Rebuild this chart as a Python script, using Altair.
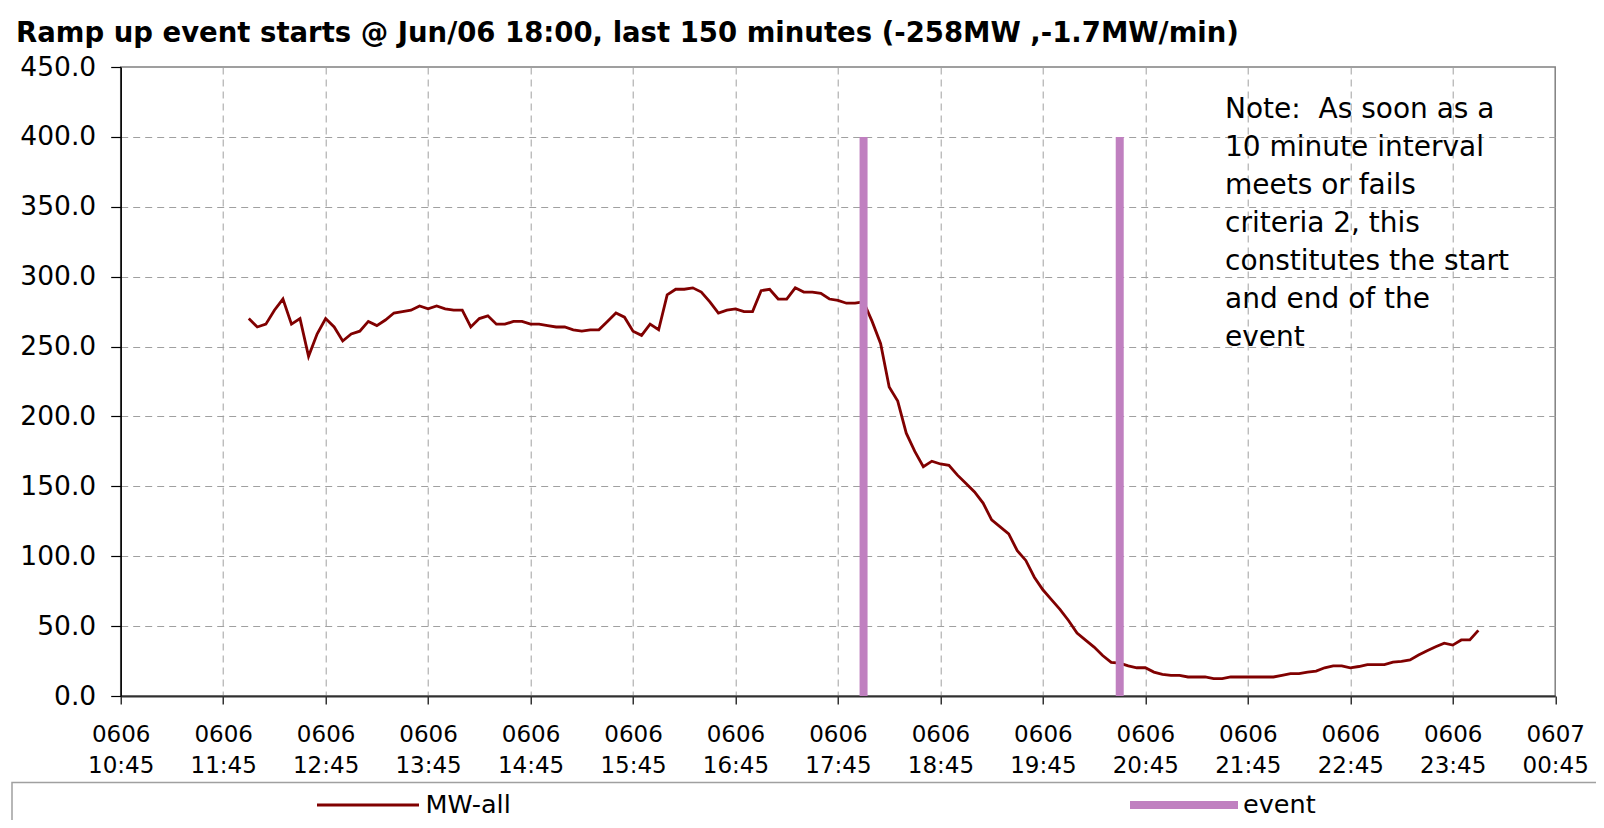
import altair as alt
import pandas as pd

# ---------------- data ----------------
title_text = "Ramp up event starts @ Jun/06 18:00, last 150 minutes (-258MW ,-1.7MW/min)"
series_names = ["MW-all", "event"]
note_lines = [
    "Note:\u00a0 As soon as a",
    "10 minute interval",
    "meets or fails",
    "criteria 2, this",
    "constitutes the start",
    "and end of the",
    "event",
]

start_time = "2008-06-06 12:00"   # first sample, 5-minute data
mw_all = [
    270, 264, 266, 276, 284, 266, 270, 243, 259, 270,
    264, 254, 259, 261, 268, 265, 269, 274, 275, 276,
    279, 277, 279, 277, 276, 276, 264, 270, 272, 266,
    266, 268, 268, 266, 266, 265, 264, 264, 262, 261,
    262, 262, 268, 274, 271, 261, 258, 266, 262, 287,
    291, 291, 292, 289, 282, 274, 276, 277, 275, 275,
    290, 291, 284, 284, 292, 289, 289, 288, 284, 283,
    281, 281, 282, 268, 252, 221, 211, 188, 175, 164,
    168, 166, 165, 158, 152, 146, 138, 126, 121, 116,
    104, 97, 85, 76, 69, 62, 54, 45, 40, 35,
    29, 24, 23.5, 21.6, 20.2, 20.2, 17.1, 15.5, 14.8, 14.8,
    13.6, 13.6, 13.6, 12.4, 12.4, 13.6, 13.6, 13.6, 13.6, 13.6,
    13.6, 14.8, 16, 16, 17.1, 17.8, 20.2, 21.6, 21.6, 20.2,
    21.1, 22.5, 22.5, 22.5, 24.2, 24.7, 25.8, 29.3, 32.4, 35.2,
    37.8, 36.4, 40.1, 40.1, 47,
]

event_times = ["2008-06-06T18:00:00Z", "2008-06-06T20:30:00Z"]
event_level = [400, 400]
event_base = [0, 0]

x_tick_times = [
    "2008-06-06 10:45", "2008-06-06 11:45", "2008-06-06 12:45", "2008-06-06 13:45",
    "2008-06-06 14:45", "2008-06-06 15:45", "2008-06-06 16:45", "2008-06-06 17:45",
    "2008-06-06 18:45", "2008-06-06 19:45", "2008-06-06 20:45", "2008-06-06 21:45",
    "2008-06-06 22:45", "2008-06-06 23:45", "2008-06-07 00:45",
]
y_ticks = [0, 50, 100, 150, 200, 250, 300, 350, 400, 450]


def ms(s):
    return int(pd.Timestamp(s, tz="UTC").value // 10**6)


x_tick_ms = [ms(t) for t in x_tick_times]

times = pd.date_range(start_time, periods=len(mw_all), freq="5min").strftime("%Y-%m-%dT%H:%M:%SZ")
df_line = pd.DataFrame({"time": list(times), "mw": mw_all, "series": series_names[0]})
df_ev = pd.DataFrame({"time": event_times, "level": event_level, "base": event_base,
                      "series": series_names[1]})
one = pd.DataFrame({"k": [0]})

# ---------------- layout ----------------
FONT = "DejaVu Sans"
W, H = 1434.5, 629
PAD_L, PAD_T = 112.7, 59

x_enc = alt.X(
    "time:T",
    scale=alt.Scale(type="utc", domain=[x_tick_ms[0], x_tick_ms[-1]], nice=False),
    axis=alt.Axis(
        values=x_tick_ms,
        title=None,
        labelExpr="[utcFormat(datum.value, '%m%d'), utcFormat(datum.value, '%H:%M')]",
        labelFont=FONT, labelFontSize=23, labelColor="#000000",
        labelLineHeight=31, labelBaseline="top", labelAlign="center",
        labelPadding=19, labelFlush=False, labelOverlap=False, labelBound=False,
        tickSize=8, tickColor="#000000", tickWidth=1.2,
        domainColor="#303030", domainWidth=2,
        grid=True, gridColor="#a0a0a0", gridDash=[7, 5], gridWidth=1,
        gridOpacity={"condition": {"test": f"datum.value <= {x_tick_ms[0]} || datum.value >= {x_tick_ms[-1]}",
                                   "value": 0}, "value": 1},
    ),
)
y_enc = alt.Y(
    "mw:Q",
    scale=alt.Scale(domain=[0, 450], nice=False),
    axis=alt.Axis(
        values=y_ticks, format=".1f", title=None,
        labelFont=FONT, labelFontSize=26.5, labelColor="#000000",
        labelPadding=15, labelFlush=False, labelOverlap=False,
        tickSize=10, tickColor="#000000", tickWidth=1.2,
        domainColor="#000000", domainWidth=1.5,
        grid=True, gridColor="#a0a0a0", gridDash=[7, 5], gridWidth=1,
        gridOpacity={"condition": {"test": "datum.value <= 0 || datum.value >= 450", "value": 0},
                     "value": 1},
    ),
)

line = alt.Chart(df_line).mark_line(color="#800000", strokeWidth=2.8).encode(x=x_enc, y=y_enc)

events = alt.Chart(df_ev).mark_rule(color="#c080c0", strokeWidth=8).encode(
    x=alt.X("time:T"),
    y=alt.Y("level:Q"),
    y2=alt.Y2("base:Q"),
)

title = alt.Chart(one).mark_text(
    align="left", baseline="alphabetic", font=FONT, fontSize=27.5, fontWeight="bold", color="#000000"
).encode(x=alt.value(8 - PAD_L), y=alt.value(34 - PAD_T), text=alt.value(title_text))

note = alt.Chart(one).mark_text(
    align="left", baseline="alphabetic", font=FONT, fontSize=28, color="#000000",
    lineHeight=38, text=note_lines,
).encode(x=alt.value(1217 - PAD_L), y=alt.value(110 - PAD_T))

legend_box = alt.Chart(one).mark_rect(fill="#ffffff", stroke="#a0a0a0", strokeWidth=1.5).encode(
    x=alt.value(4 - PAD_L), x2=alt.value(1500), y=alt.value(774.6 - PAD_T), y2=alt.value(770)
)
leg_y = 797 - PAD_T
leg1_sym = alt.Chart(one).mark_rule(color="#800000", strokeWidth=2.8).encode(
    x=alt.value(309 - PAD_L), x2=alt.value(411 - PAD_L), y=alt.value(leg_y)
)
leg1_txt = alt.Chart(one).mark_text(
    align="left", baseline="middle", font=FONT, fontSize=25.5, color="#000000"
).encode(x=alt.value(417.6 - PAD_L), y=alt.value(leg_y), text=alt.value(series_names[0]))
leg2_sym = alt.Chart(one).mark_rule(color="#c080c0", strokeWidth=8).encode(
    x=alt.value(1122 - PAD_L), x2=alt.value(1230 - PAD_L), y=alt.value(leg_y)
)
leg2_txt = alt.Chart(one).mark_text(
    align="left", baseline="middle", font=FONT, fontSize=25.5, color="#000000"
).encode(x=alt.value(1235 - PAD_L), y=alt.value(leg_y), text=alt.value(series_names[1]))

chart = alt.layer(
    line, events, title, note, legend_box, leg1_sym, leg1_txt, leg2_sym, leg2_txt
).properties(
    width=W,
    height=H,
    autosize=alt.AutoSizeParams(type="none"),
    padding={"left": PAD_L, "top": PAD_T, "right": 1588 - PAD_L - W, "bottom": 812 - PAD_T - H},
    background="#ffffff",
).configure_view(
    stroke="#808080", strokeWidth=1.5
)

chart.save("out.html", embed_options={"renderer": "svg", "actions": False})
